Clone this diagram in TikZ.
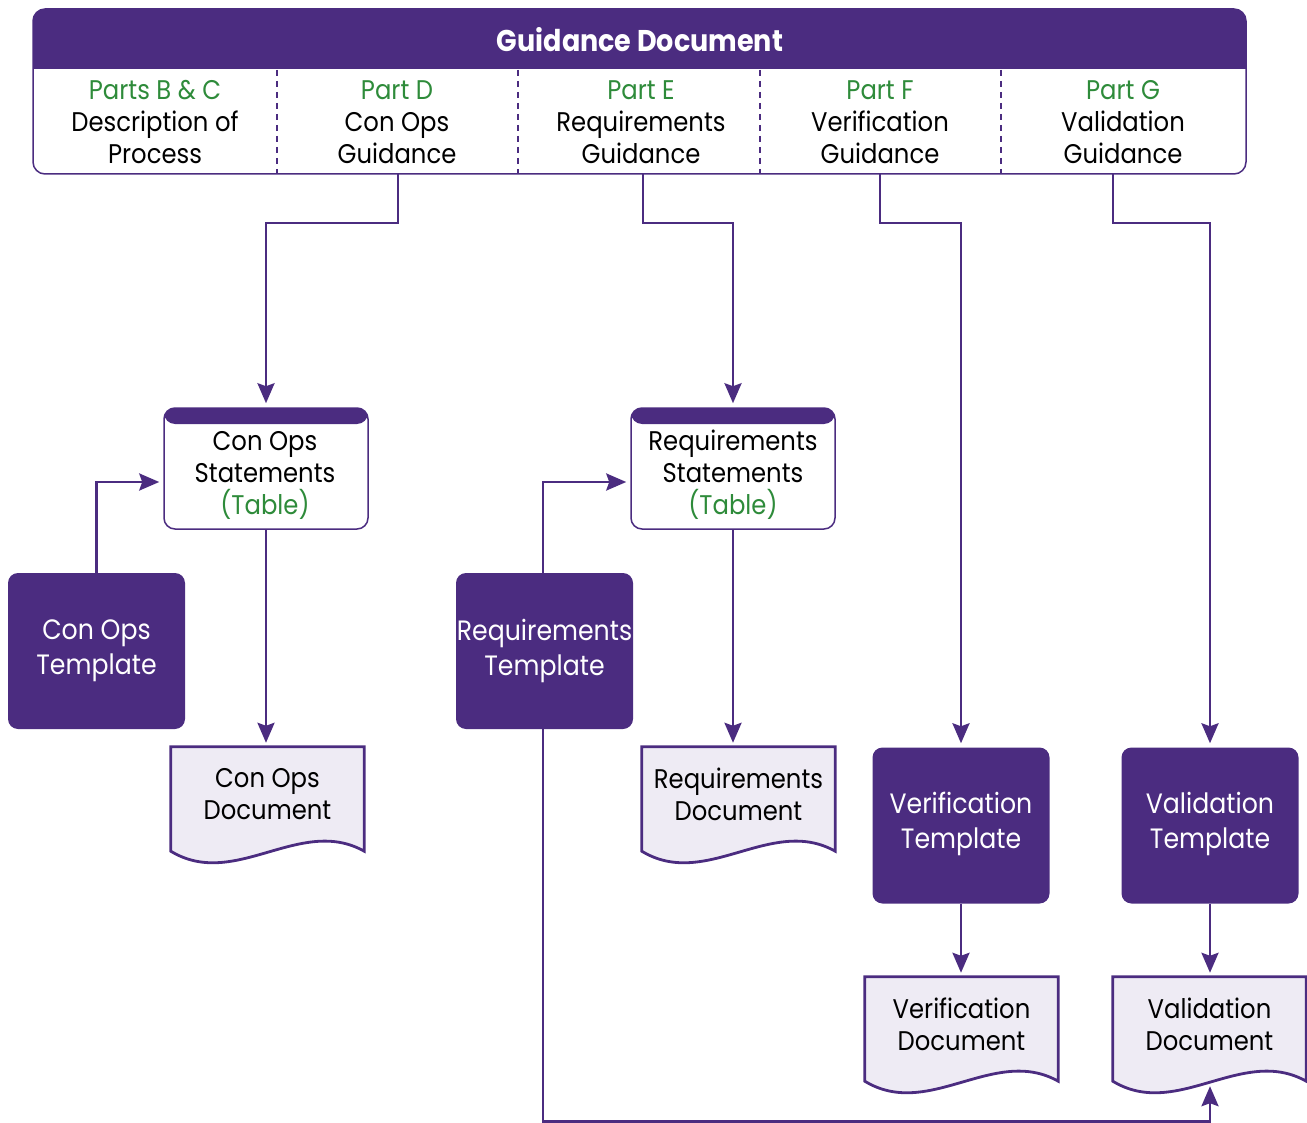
\documentclass[tikz,border=0pt]{standalone}
\usepackage{fontspec}
\setmainfont{Poppins}[FakeStretch=0.9]
\usetikzlibrary{arrows.meta,calc}
\definecolor{purp}{HTML}{4B2C80}
\definecolor{grn}{HTML}{2E8B3A}
\definecolor{docfill}{HTML}{EEEBF4}
\newcommand{\docpath}[1]{%
  \draw[docline] (#1.north west) -- (#1.north east) -- ($(#1.south east)+(0,10)$)
    .. controls ($(#1.south east)+(-64,-26)$) and ($(#1.south west)+(64,49)$) .. ($(#1.south west)+(0,10)$) -- cycle;}
\begin{document}
\begin{tikzpicture}[x=1pt,y=-1pt,
  txt/.style={align=center,inner sep=0pt,font=\fontsize{27}{32}\selectfont},
  wtxt/.style={align=center,inner sep=0pt,text=white,font=\fontsize{28}{35}\selectfont},
  tbl/.style={draw=purp,line width=1.5pt,rounded corners=11pt,minimum width=204pt,minimum height=121pt,inner sep=0pt,
    path picture={\fill[purp] (path picture bounding box.north west) rectangle ([yshift=-16pt]path picture bounding box.north east);}},
  tmpl/.style={fill=purp,rounded corners=10pt,minimum width=177pt,minimum height=156pt,inner sep=0pt},
  docbox/.style={minimum width=193pt,minimum height=94pt,inner sep=0pt},
  docline/.style={draw=purp,fill=docfill,line width=2.8pt,line join=miter},
  arr/.style={draw=purp,line width=2.8pt,-{Stealth[length=20pt,width=17pt,inset=3pt]},shorten >=4pt},
  divider/.style={draw=purp,line width=2pt,dash pattern=on 6pt off 5pt}
]
\useasboundingbox (0,0) rectangle (1307,1123);
% header
\fill[purp] (33,69) [rounded corners=12pt] -- (33,9) -- (1246,9) [sharp corners] -- (1246,69) -- cycle;
\draw[purp,line width=1.5pt,rounded corners=12pt] (33,9) rectangle (1246,174);
\node[inner sep=0pt,text=white,font=\fontsize{30}{36}\selectfont\bfseries] (title) at (640,40) {Guidance Document};
\foreach \x in {277,518,760,1001} \draw[divider] (\x,70) -- (\x,174);
\node[txt] (pB) at (155,122) {\textcolor{grn}{Parts B \& C}\\Description of\\Process};
\node[txt] (pD) at (397,122) {\textcolor{grn}{Part D}\\Con Ops\\Guidance};
\node[txt] (pE) at (641,122) {\textcolor{grn}{Part E}\\Requirements\\Guidance};
\node[txt] (pF) at (880,122) {\textcolor{grn}{Part F}\\Verification\\Guidance};
\node[txt] (pG) at (1123,122) {\textcolor{grn}{Part G}\\Validation\\Guidance};
\coordinate (oD) at (398,174);
\coordinate (oE) at (643,174);
\coordinate (oF) at (880,174);
\coordinate (oG) at (1113,174);
% tables
\node[tbl] (cs) at (266,468.5) {};
\node[txt] (cstx) at (265,475) {Con Ops\\Statements\\\textcolor{grn}{(Table)}};
\node[tbl] (rs) at (733,468.5) {};
\node[txt] (rstx) at (733,475) {Requirements\\Statements\\\textcolor{grn}{(Table)}};
% templates
\node[tmpl] (ct) at (96.5,651) {};
\node[wtxt] (cttx) at (96.5,650.5) {Con Ops\\Template};
\node[tmpl] (rt) at (544.5,651) {};
\node[wtxt] (rttx) at (544.5,650.5) {Requirements\\Template};
\node[tmpl] (vt) at (961,825.5) {};
\node[wtxt] (vttx) at (961,823.5) {Verification\\Template};
\node[tmpl] (lt) at (1210,825.5) {};
\node[wtxt] (lttx) at (1210,823.5) {Validation\\Template};
% documents
\node[docbox] (cd) at (267.5,794) {};
\docpath{cd}
\node[txt] (cdtx) at (267.5,794) {Con Ops\\Document};
\node[docbox] (rd) at (738.5,794) {};
\docpath{rd}
\node[txt] (rdtx) at (738.5,794) {Requirements\\Document};
\node[docbox] (vd) at (961.5,1024) {};
\docpath{vd}
\node[txt] (vdtx) at (961.5,1024) {Verification\\Document};
\node[docbox] (ld) at (1209.5,1024) {};
\docpath{ld}
\node[txt] (ldtx) at (1209.5,1024) {Validation\\Document};
\coordinate (ldb) at ($(ld.south)+(0.5,11)$);
% connectors
\draw[arr] (oD) -- ++(0,49) -| (cs.north);
\draw[arr] (oE) -- ++(0,49) -| (rs.north);
\draw[arr] (oF) -- ++(0,49) -| (vt.north);
\draw[arr] (oG) -- ++(0,49) -| (lt.north);
\draw[arr] (ct.north) |- ([yshift=-13.5pt]cs.west);
\draw[arr] ([xshift=-1.5pt]rt.north) |- ([yshift=-13.5pt]rs.west);
\draw[arr] (cs.south) -- (cs.south |- cd.north);
\draw[arr] (rs.south) -- (rs.south |- rd.north);
\draw[arr] (vt.south) -- (vt.south |- vd.north);
\draw[arr] (lt.south) -- (lt.south |- ld.north);
\draw[arr] ([xshift=-1.5pt]rt.south) -- ++(0,392) -| (ldb);
\end{tikzpicture}
\end{document}
